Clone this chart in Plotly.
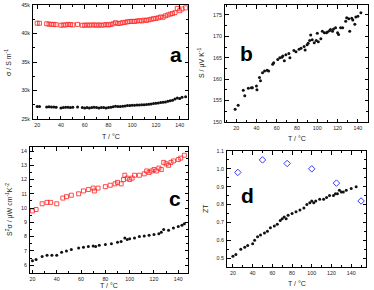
import plotly.graph_objects as go

W, H = 374, 290

# ---- panel a: conductivity ----
Ta = [20, 22, 28, 30, 32, 34, 36, 40, 42, 44, 46, 48, 50, 54, 58, 60, 62, 64, 66, 68, 70, 72, 74, 76, 78, 80,
      82, 84, 86, 88, 90, 92, 94, 96, 98, 100, 102, 104, 106, 108, 110, 112, 114, 116, 118, 120, 122, 124,
      126, 128, 130, 132, 134, 136, 138, 140, 142, 145]
sigma_red = [41800, 41800, 41700, 41650, 41600, 41600, 41550, 41450, 41500, 41500, 41600, 41550, 41500, 41600,
             41450, 41450, 41500, 41450, 41500, 41500, 41450, 41500, 41450, 41500, 41550, 41500, 41600, 41700,
             41900, 41750, 41800, 41900, 41950, 42050, 42100, 42150, 42100, 42200, 42250, 42200, 42350, 42300,
             42400, 42500, 42600, 42650, 42750, 42900, 42850, 43100, 43250, 43400, 43500, 43650, 44400, 44000,
             44300, 44500]
sigma_blk = [27200, 27200, 27100, 27150, 27100, 27100, 27050, 26950, 27000, 27050, 27050, 27000, 27050, 27100,
             27000, 26950, 27000, 26950, 27000, 27050, 27000, 26950, 27000, 27000, 26950, 27000, 27050, 27150,
             27250, 27200, 27200, 27250, 27300, 27350, 27350, 27400, 27400, 27450, 27450, 27500, 27500, 27550,
             27600, 27650, 27700, 27750, 27800, 27900, 27950, 28000, 28100, 28200, 28300, 28500, 28700, 28600,
             28800, 28900]

# ---- panel b: Seebeck ----
Tb = [19, 22, 27, 28.5, 32, 35, 36, 40, 40.5, 43, 44, 46, 48, 50.5, 52, 56, 57, 61, 63, 65, 66, 67.5, 69, 72, 73,
      77, 79, 82, 84, 87, 88, 90, 91, 92.5, 93.5, 95, 97, 99, 100, 101, 103.5, 105, 107, 109, 110, 112, 113, 115,
      116, 118, 120, 121, 123, 125, 128, 129, 131, 132, 134, 135, 137, 138, 140, 143]
S_blk = [153.0, 153.9, 157.4, 156.1, 157.9, 158.0, 158.0, 158.4, 157.5, 160.4, 159.6, 161.5, 161.9, 162.1, 161.9,
         163.5, 163.8, 164.6, 165.0, 165.1, 165.4, 164.3, 165.7, 166.0, 165.0, 166.7, 166.4, 167.0, 167.2, 167.6,
         166.8, 168.0, 168.4, 169.0, 170.3, 169.2, 168.5, 169.0, 170.7, 168.7, 169.4, 171.2, 170.8, 170.8, 171.0,
         171.3, 171.6, 171.2, 171.7, 172.0, 170.8, 170.4, 172.0, 172.0, 173.5, 174.3, 174.1, 171.2, 174.2, 173.8,
         172.8, 174.5, 174.7, 175.5]

# ---- panel c: power factor ----
Tc_red = [20, 23, 28, 32, 35, 40, 45, 48, 52, 58, 62, 66, 70, 71, 74, 80, 84, 88, 90, 93, 95, 96, 98, 100, 102,
          104, 108, 112, 114, 116, 118, 120, 122, 124, 126, 128, 130, 132, 134, 136, 140, 142, 145]
PF_red = [9.8, 9.9, 10.3, 10.4, 10.4, 10.3, 10.7, 10.8, 10.9, 11.0, 11.2, 11.3, 11.4, 11.2, 11.4, 11.5, 11.6,
          11.7, 11.8, 11.7, 12.0, 12.3, 12.1, 12.0, 12.1, 12.3, 12.3, 12.4, 12.6, 12.5, 12.6, 12.7, 12.6, 12.8,
          12.7, 13.2, 13.1, 13.0, 13.2, 13.3, 13.4, 13.5, 13.7]
Tc_blk = [20, 23, 28, 32, 36, 40, 44, 48, 52, 58, 62, 66, 70, 72, 75, 80, 85, 90, 93, 96, 98, 100, 104, 108, 112,
          116, 120, 124, 126, 128, 132, 136, 140, 143, 145]
PF_blk = [6.3, 6.4, 6.6, 6.7, 6.7, 6.7, 6.9, 7.0, 7.1, 7.2, 7.25, 7.3, 7.35, 7.3, 7.4, 7.45, 7.5, 7.6, 7.65, 7.9,
          7.8, 7.85, 7.9, 8.0, 8.05, 8.1, 8.15, 8.2, 8.3, 8.5, 8.45, 8.6, 8.7, 8.8, 8.9]

# ---- panel d: ZT ----
Td = [20, 23, 28, 32, 35, 40, 42, 45, 48, 52, 55, 58, 62, 65, 68, 70, 72, 74, 76, 80, 84, 88, 92, 95, 98, 100,
      102, 104, 108, 112, 115, 118, 122, 124, 126, 128, 130, 132, 135, 140, 145]
ZT_blk = [0.51, 0.52, 0.55, 0.56, 0.57, 0.58, 0.60, 0.62, 0.63, 0.64, 0.65, 0.67, 0.68, 0.69, 0.71, 0.72, 0.73,
          0.72, 0.74, 0.75, 0.76, 0.77, 0.78, 0.80, 0.81, 0.82, 0.81, 0.82, 0.83, 0.83, 0.84, 0.85, 0.85, 0.86,
          0.86, 0.88, 0.87, 0.87, 0.88, 0.89, 0.90]
Td_blue = [25, 50, 75, 100, 125, 150]
ZT_blue = [0.98, 1.05, 1.03, 1.00, 0.92, 0.82]

x_title = "T / °C"
y_titles = ["σ / S m<sup>-1</sup>", "S / μV K<sup>-1</sup>",
            "S<sup>2</sup>σ / μW cm<sup>-1</sup>K<sup>-2</sup>", "ZT"]
panel_letters = ["a", "b", "c", "d"]

fig = go.Figure()
blk = dict(symbol="circle", size=3, color="#111111", line=dict(width=0))
red = dict(symbol="square-open", size=4, color="#ff2020", line=dict(width=0.8))
blue = dict(symbol="diamond-open", size=5, color="#3a3aff", line=dict(width=1))

fig.add_trace(go.Scatter(x=Ta, y=sigma_red, mode="markers", marker=red, xaxis="x", yaxis="y"))
fig.add_trace(go.Scatter(x=Ta, y=sigma_blk, mode="markers", marker=blk, xaxis="x", yaxis="y"))
fig.add_trace(go.Scatter(x=Tb, y=S_blk, mode="markers", marker=blk, xaxis="x2", yaxis="y2"))
fig.add_trace(go.Scatter(x=Tc_red, y=PF_red, mode="markers", marker=red, xaxis="x3", yaxis="y3"))
fig.add_trace(go.Scatter(x=Tc_blk, y=PF_blk, mode="markers", marker=blk, xaxis="x3", yaxis="y3"))
fig.add_trace(go.Scatter(x=Td, y=ZT_blk, mode="markers", marker=blk, xaxis="x4", yaxis="y4"))
fig.add_trace(go.Scatter(x=Td_blue, y=ZT_blue, mode="markers", marker=blue, xaxis="x4", yaxis="y4",
                         cliponaxis=False))

tickfont = dict(family="Liberation Sans, Arial", size=5.3, color="#222")
titlefont = dict(family="Liberation Sans, Arial", size=7, color="#222")


def ax(domain, rng, dtick, anchor, minor_dtick, fmt=None):
    d = dict(domain=domain, range=rng, dtick=dtick, anchor=anchor, tick0=0,
             showline=True, linecolor="black", linewidth=1, mirror="allticks",
             ticks="inside", ticklen=3.5, tickwidth=0.8, tickcolor="black",
             minor=dict(ticks="inside", ticklen=2, dtick=minor_dtick, tickwidth=0.7, tickcolor="black"),
             showgrid=False, zeroline=False, tickfont=tickfont, automargin=False, ticklabelstandoff=1)
    if fmt:
        d["tickformat"] = fmt
    return d


px = lambda a, b: [a / W, b / W]
py = lambda top, bot: [1 - bot / H, 1 - top / H]

fig.update_layout(
    width=W, height=H, margin=dict(l=0, r=0, t=0, b=0),
    paper_bgcolor="white", plot_bgcolor="white", showlegend=False,
    xaxis=ax(px(33, 188), [16.5, 147], 20, "y", 10),
    yaxis=ax(py(5, 119), [25000, 45000], 5000, "x", 2500),
    xaxis2=ax(px(225, 368), [9, 150], 20, "y2", 10),
    yaxis2=ax(py(5, 122), [150, 177.3], 5, "x2", 2.5),
    xaxis3=ax(px(30, 188), [18, 148], 20, "y3", 10),
    yaxis3=ax(py(147, 273), [5.45, 14.28], 1, "x3", 0.5),
    xaxis4=ax(px(227, 366), [14, 155], 20, "y4", 10),
    yaxis4=ax(py(151, 267), [0.45, 1.1], 0.1, "x4", 0.05, fmt=".1f"),
)


def ann(text, xp, yp, font, angle=0):
    fig.add_annotation(text=text, x=xp / W, y=1 - yp / H, xref="paper", yref="paper", showarrow=False,
                       font=font, xanchor="center", yanchor="middle", textangle=angle)


for xp, yp in [(111, 137), (297, 138), (109, 285), (297, 283)]:
    ann(x_title, xp, yp, titlefont)
for t, (xp, yp) in zip(y_titles, [(8, 62), (201, 63), (9, 210), (205, 209)]):
    ann(t, xp, yp, titlefont, angle=-90)

letfont = dict(family="Liberation Sans, Arial", size=21, color="black")
for t, (xp, yp) in zip(panel_letters, [(176, 54), (246, 53), (175, 198), (247, 195)]):
    ann("<b>" + t + "</b>", xp, yp, letfont)

fig.write_html("out.html", config={"displayModeBar": False},
               post_script="document.body.style.margin='0';document.body.style.overflow='hidden';")
